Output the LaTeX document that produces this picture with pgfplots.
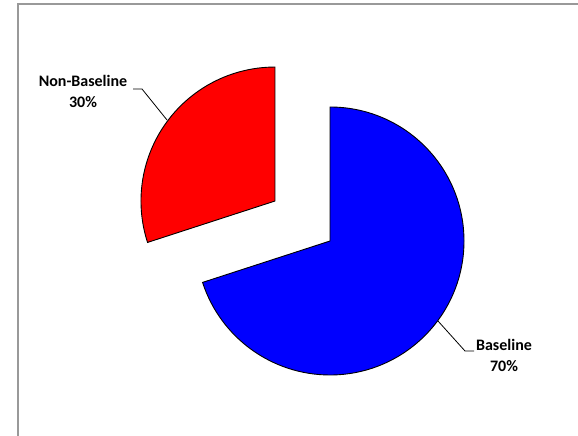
\documentclass[border=0pt]{standalone}
\usepackage{pgfplots}
\pgfplotsset{compat=1.18}
\usepackage{pgfplotstable}
\usepackage{fontspec}
\setmainfont{Carlito}
\pgfplotstableread{
label value
Baseline 70
Non-Baseline 30
}\piedata
\begin{document}
\pgfplotstablegetelem{0}{value}\of\piedata\let\vB\pgfplotsretval
\pgfplotstablegetelem{1}{value}\of\piedata\let\vN\pgfplotsretval
\begin{tikzpicture}
\begin{axis}[
  at={(0pt,0pt)}, anchor=south west,
  width=578pt, height=436pt, scale only axis,
  xmin=0, xmax=578, ymin=0, ymax=436,
  hide axis, clip=false,
]
% frame
\draw[color=gray!80, line width=1.2pt] (axis cs:18,-20) -- (axis cs:18,432) -- (axis cs:600,432);
% Baseline slice (not exploded), clockwise from 12 o'clock
\pgfmathsetmacro\endB{90-3.6*\vB}
\filldraw[fill={rgb,255:red,0;green,0;blue,255}, draw=black, line width=0.9pt]
  (axis cs:330,195) -- ++(90:134pt) arc[start angle=90, end angle=\endB, radius=134pt] -- cycle;
% Non-Baseline slice (exploded)
\pgfmathsetmacro\startN{\endB+360}
\pgfmathsetmacro\midN{\startN-1.8*\vN}
\filldraw[fill={rgb,255:red,255;green,0;blue,0}, draw=black, line width=0.9pt]
  (axis cs:330,195) ++(\midN:68pt) -- ++(90:134pt) arc[start angle=90, end angle=\startN, radius=134pt] -- cycle;
% leader lines
\draw[black, line width=0.8pt] (axis cs:133,347) -- (axis cs:142,347) -- (axis cs:167,316);
\draw[black, line width=0.8pt] (axis cs:438,115) -- (axis cs:465,85) -- (axis cs:474,85);
% labels
\node[align=center, font=\fontsize{16}{21}\selectfont\bfseries] at (axis cs:83,344.5) {Non-Baseline\\30\%};
\node[align=center, font=\fontsize{16}{21}\selectfont\bfseries] at (axis cs:504,81) {Baseline\\70\%};
\end{axis}
\pgfresetboundingbox
\useasboundingbox (0pt,0pt) rectangle (578pt,436pt);
\end{tikzpicture}
\end{document}
